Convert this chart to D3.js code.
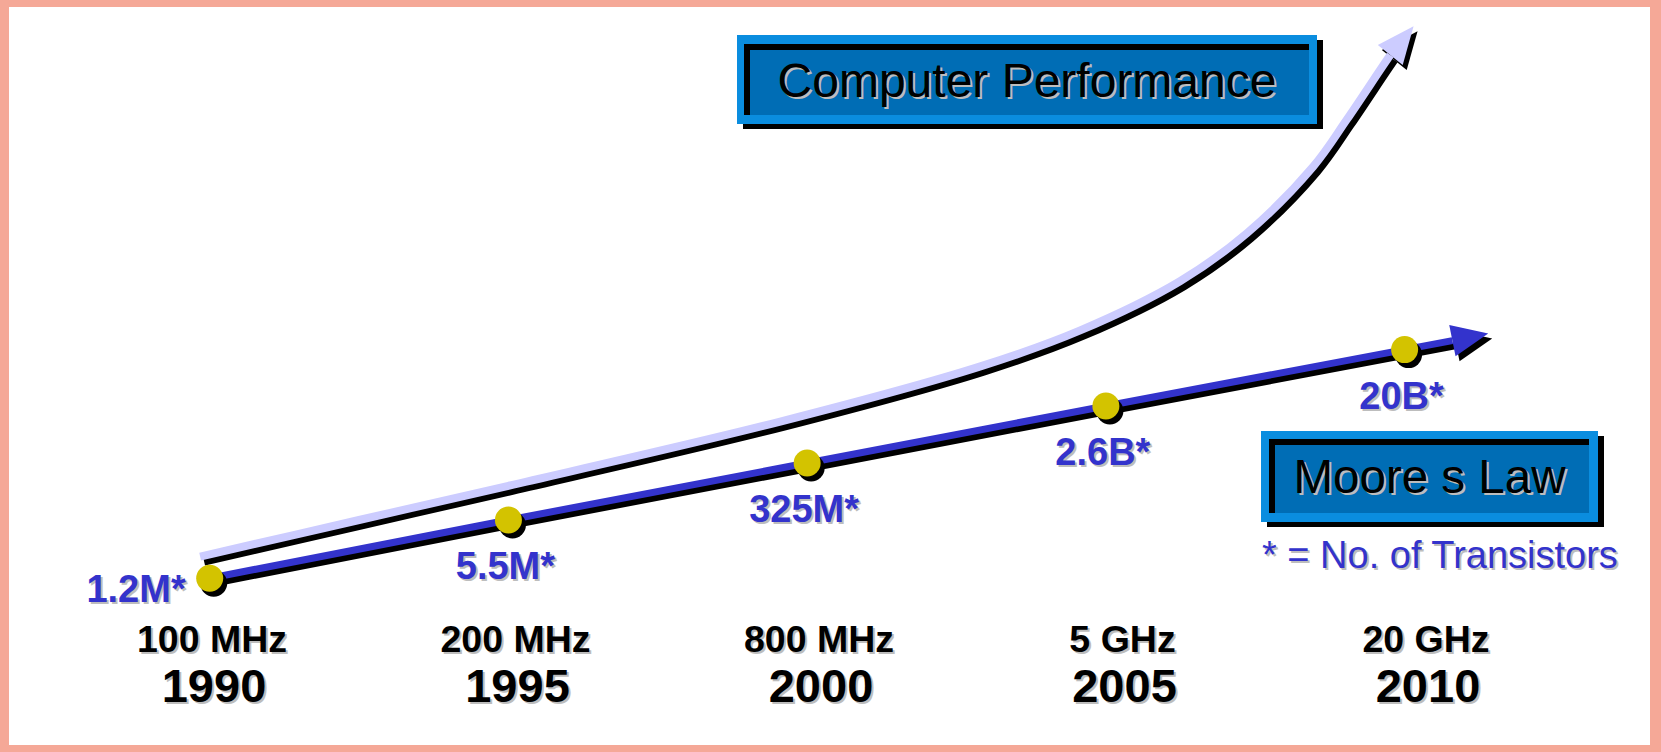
<!DOCTYPE html>
<html>
<head>
<meta charset="utf-8">
<script src="https://cdn.jsdelivr.net/npm/d3@7"></script>
<style>
  html, body { margin: 0; padding: 0; background: #fff; }
  svg { display: block; font-family: "Liberation Sans", Arial, sans-serif; }
</style>
</head>
<body>
<div id="chart"></div>
<script>
// years along the bottom and the labels under each one
var years = [1990, 1995, 2000, 2005, 2010];
var clockLabels = ["100 MHz", "200 MHz", "800 MHz", "5 GHz", "20 GHz"];
var transistorLabels = ["1.2M*", "5.5M*", "325M*", "2.6B*", "20B*"];

// height of the Moore's law dots (relative index)
var mooreLevels = [10.3, 20.0, 29.5, 39.0, 48.4];
// the Moore's law arrow keeps going past 2010: shaft end, then tip
var mooreArrowYears = [2010.8, 2011.4];
var mooreArrowLevels = [49.9, 51.1];

// computer performance curve, last point is the arrow tip
var perfYears = [1989.84, 1992.5, 1995, 1999.55, 2002.9, 2004.57, 2006.24, 2007.36, 2008.47, 2009.03, 2009.59, 2009.76, 2010.15];
var perfLevels = [13.9, 20.0, 25.7, 36.4, 45.6, 51.6, 59.8, 67.8, 78.9, 86.7, 95.0, 97.5, 102.3];

var width = 1661,
    height = 752;

var shadowDx = 4, shadowDy = 5;

var x = d3.scaleLinear()
  .domain([1990, 2010])
  .range([209.7, 1404.6]);

// the year / clock labels are spread a little wider than the dots
var labelX = d3.scaleLinear()
  .domain([1990, 2010])
  .range([212, 1426]);

var y = d3.scaleLinear()
  .domain([0, 100])
  .range([640, 40]);

var svg = d3.select("#chart").append("svg")
  .attr("width", width)
  .attr("height", height);

// salmon frame
var frame = [[0, 0, width, 7], [0, 0, 9, height], [1650, 0, 11, height], [0, 745, width, 7]];
svg.selectAll("rect.frame")
  .data(frame)
  .enter().append("rect")
  .attr("class", "frame")
  .attr("x", function(d) { return d[0]; })
  .attr("y", function(d) { return d[1]; })
  .attr("width", function(d) { return d[2]; })
  .attr("height", function(d) { return d[3]; })
  .attr("fill", "#F5A897");

var perf = perfYears.map(function(d, i) { return [x(d), y(perfLevels[i])]; });
var moore = years.map(function(d, i) { return [x(d), y(mooreLevels[i])]; });
var mooreExt = mooreArrowYears.map(function(d, i) { return [x(d), y(mooreArrowLevels[i])]; });
var moorePath = moore.concat(mooreExt);

// arrow head triangle from shaft end (base middle) to tip
function head(base, tip, half) {
  var dx = tip[0] - base[0], dy = tip[1] - base[1];
  var len = Math.sqrt(dx * dx + dy * dy);
  var nx = -dy / len, ny = dx / len;
  return [tip, [base[0] + nx * half, base[1] + ny * half], [base[0] - nx * half, base[1] - ny * half]];
}

var perfHead = head(perf[perf.length - 2], perf[perf.length - 1], 16);
var mooreHead = head(moorePath[moorePath.length - 2], moorePath[moorePath.length - 1], 16);

var curveLine = d3.line().curve(d3.curveCatmullRom.alpha(0.5));
var straightLine = d3.line();
var tri = function(p) { return "M" + p.join("L") + "Z"; };

function drawArrow(g, pts, lineGen, headPts, color, lineWidth) {
  g.append("path")
    .attr("d", lineGen(pts))
    .attr("fill", "none")
    .attr("stroke", color)
    .attr("stroke-width", lineWidth);
  g.append("path")
    .attr("d", tri(headPts))
    .attr("fill", color);
}

// performance curve
var gPerf = svg.append("g");
drawArrow(gPerf.append("g").attr("transform", "translate(" + shadowDx + "," + shadowDy + ")"),
  perf.slice(0, -1), curveLine, perfHead, "#000", 8);
drawArrow(gPerf, perf.slice(0, -1), curveLine, perfHead, "#CCCCFF", 8);

// moore's law line
var gMoore = svg.append("g");
drawArrow(gMoore.append("g").attr("transform", "translate(" + shadowDx + "," + shadowDy + ")"),
  moorePath.slice(0, -1), straightLine, mooreHead, "#000", 7);

svg.append("g")
  .selectAll("circle")
  .data(moore)
  .enter().append("circle")
  .attr("cx", function(d) { return d[0] + shadowDx; })
  .attr("cy", function(d) { return d[1] + shadowDy; })
  .attr("r", 13.5)
  .attr("fill", "#000");

drawArrow(gMoore, moorePath.slice(0, -1), straightLine, mooreHead, "#3333CC", 7);

svg.append("g")
  .selectAll("circle")
  .data(moore)
  .enter().append("circle")
  .attr("cx", function(d) { return d[0]; })
  .attr("cy", function(d) { return d[1]; })
  .attr("r", 13.5)
  .attr("fill", "#D3C300");

// text with a soft grey drop shadow
function shadowText(g, data, attrs) {
  [["#BDBDBD", 2], [attrs.fill, 0]].forEach(function(s) {
    g.append("g")
      .attr("transform", "translate(" + s[1] + "," + s[1] + ")")
      .selectAll("text")
      .data(data)
      .enter().append("text")
      .attr("x", attrs.x)
      .attr("y", attrs.y)
      .attr("text-anchor", attrs.anchor || "middle")
      .attr("font-size", attrs.size)
      .attr("font-weight", attrs.weight || "normal")
      .attr("fill", s[0])
      .text(function(d) { return d; });
  });
}

var labels = svg.append("g");

shadowText(labels, transistorLabels, {
  x: function(d, i) { return i === 0 ? moore[i][0] - 24 : moore[i][0] - 3; },
  y: function(d, i) { return i === 0 ? moore[i][1] + 24 : moore[i][1] + 59; },
  anchor: null, size: 38, weight: "bold", fill: "#3333CC"
});
// first label sits left of its dot
labels.selectAll("text").filter(function(d) { return d === transistorLabels[0]; })
  .attr("text-anchor", "end");

shadowText(labels, clockLabels, {
  x: function(d, i) { return labelX(years[i]); },
  y: 652, size: 37.5, weight: "bold", fill: "#000"
});

shadowText(labels, years, {
  x: function(d) { return labelX(d) + 2; },
  y: 702, size: 47, weight: "bold", fill: "#000"
});

// title boxes
function titleBox(o, inner, label, size, baseline) {
  var g = svg.append("g");
  g.append("rect").attr("x", o[0] + 6).attr("y", o[1] + 5).attr("width", o[2]).attr("height", o[3]).attr("fill", "#000");
  g.append("rect").attr("x", o[0]).attr("y", o[1]).attr("width", o[2]).attr("height", o[3]).attr("fill", "#0A8DDF");
  g.append("rect").attr("x", inner[0]).attr("y", inner[1]).attr("width", inner[2]).attr("height", inner[3]).attr("fill", "#000");
  g.append("rect").attr("x", inner[0] + 6).attr("y", inner[1] + 6).attr("width", inner[2] - 6).attr("height", inner[3] - 6).attr("fill", "#006DB5");
  shadowText(g, [label], { x: o[0] + o[2] / 2, y: baseline, size: size, fill: "#000" });
}

titleBox([737, 35, 580, 89], [744, 44, 565, 71], "Computer Performance", 48, 97);
titleBox([1261, 431, 337, 91], [1269, 439, 320, 74], "Moore s Law", 47.5, 493);

shadowText(svg.append("g"), ["* = No. of Transistors"], {
  x: 1262, y: 568, anchor: "start", size: 38, fill: "#3333CC"
});
</script>
</body>
</html>
